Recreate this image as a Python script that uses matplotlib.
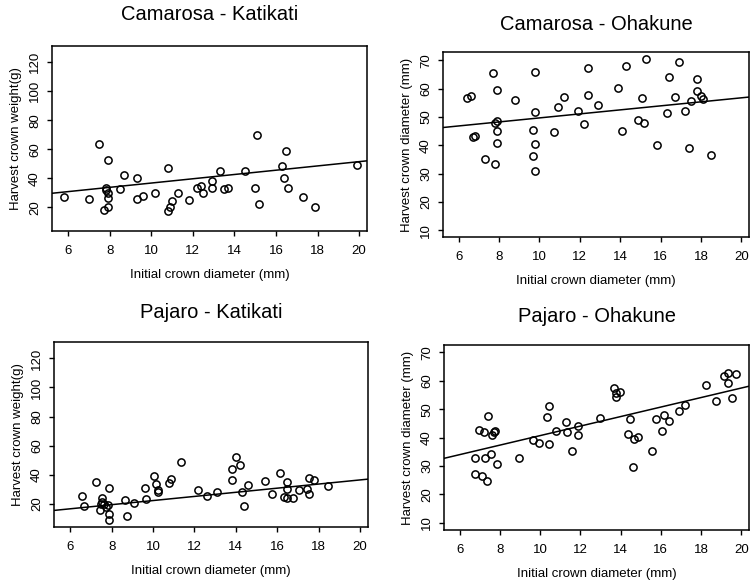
import matplotlib
matplotlib.use('Agg')
import matplotlib.pyplot as plt
import numpy as np

plt.rcParams['font.family'] = ['Liberation Sans', 'DejaVu Sans']

# Camarosa - Katikati: initial crown diameter (mm) vs harvest crown weight (g)
ck_x = [5.8, 7.0, 7.5, 7.7, 7.8, 7.8, 7.9, 7.9, 7.9, 7.9, 8.5, 8.7, 9.3, 9.3, 9.6,
        10.2, 10.8, 10.8, 10.9, 11.0, 11.3, 11.8, 12.2, 12.4, 12.5, 12.9, 12.9,
        13.3, 13.5, 13.7, 14.5, 15.0, 15.1, 15.2, 16.3, 16.5, 16.4, 16.6, 17.3,
        17.9, 19.9]
ck_y = [27.4, 26.0, 63.4, 18.2, 33.6, 32.0, 52.4, 30.1, 26.2, 20.2, 32.9, 42.3,
        40.0, 25.7, 28.0, 29.7, 47.4, 17.7, 20.5, 24.1, 29.7, 25.0, 33.6, 34.7,
        29.7, 38.2, 33.6, 45.0, 32.4, 33.6, 45.3, 33.1, 70.1, 22.1, 48.7, 58.6,
        40.0, 33.6, 27.1, 20.5, 49.4]

# Camarosa - Ohakune: initial crown diameter vs harvest crown diameter (mm)
co_x = [6.4, 6.6, 6.7, 6.8, 7.3, 7.7, 7.8, 7.8, 7.9, 7.9, 7.9, 7.9, 8.8, 9.8,
        9.8, 9.7, 9.8, 9.7, 9.8, 10.7, 10.9, 11.2, 11.9, 12.2, 12.4, 12.4, 12.9,
        13.9, 14.1, 14.3, 14.9, 15.1, 15.2, 15.3, 15.8, 16.3, 16.4, 16.7, 16.9,
        17.2, 17.4, 17.5, 17.8, 17.8, 18.0, 18.1, 18.5]
co_y = [56.7, 57.3, 42.8, 43.4, 35.0, 65.6, 33.4, 47.9, 59.5, 48.5, 45.1, 41.0,
        56.2, 65.9, 51.9, 45.5, 40.4, 36.4, 30.8, 44.7, 53.7, 57.2, 52.1, 47.5,
        57.9, 67.2, 54.4, 60.3, 45.0, 68.2, 49.1, 56.6, 47.8, 70.5, 40.2, 51.4,
        64.3, 57.2, 69.4, 52.1, 39.1, 55.6, 63.5, 59.1, 57.5, 56.5, 36.6]

# Pajaro - Katikati
pk_x = [6.57, 6.65, 7.27, 7.48, 7.46, 7.56, 7.56, 7.63, 7.75, 7.84, 7.86, 7.86,
        7.86, 8.65, 8.76, 9.06, 9.63, 9.65, 10.05, 10.14, 10.24, 10.25, 10.76,
        10.86, 11.37, 12.16, 12.6, 13.11, 13.79, 13.81, 14.0, 14.21, 14.32,
        14.4, 14.61, 15.39, 15.76, 16.15, 16.47, 16.47, 16.34, 16.45, 16.76,
        17.05, 17.44, 17.53, 17.55, 17.76, 18.44]
pk_y = [25.5, 18.6, 35.2, 20.0, 15.4, 24.1, 21.4, 19.8, 17.7, 19.3, 30.6, 12.9,
        8.7, 22.5, 11.7, 20.2, 30.8, 23.2, 39.1, 33.3, 29.4, 28.3, 34.0, 37.0,
        48.7, 29.4, 25.5, 27.9, 43.7, 36.1, 52.4, 46.7, 28.1, 18.6, 32.9, 35.7,
        26.7, 41.2, 34.7, 30.1, 24.8, 24.1, 24.1, 29.4, 30.3, 37.9, 26.5, 36.3,
        32.4]

# Pajaro - Ohakune
po_x = [6.75, 6.77, 6.95, 7.13, 7.23, 7.27, 7.35, 7.43, 7.57, 7.62, 7.7, 7.75,
        7.87, 8.97, 9.65, 9.93, 10.35, 10.45, 10.45, 10.77, 11.3, 11.35, 11.6,
        11.87, 11.88, 12.97, 13.67, 13.76, 13.76, 13.95, 14.36, 14.47, 14.59,
        14.65, 14.87, 15.58, 15.76, 16.07, 16.17, 16.4, 16.89, 17.18, 18.26,
        18.75, 19.13, 19.32, 19.32, 19.53, 19.71]
po_y = [27.1, 32.6, 42.6, 26.6, 42.0, 32.6, 24.6, 47.5, 34.2, 41.0, 42.0, 42.2,
        30.8, 32.6, 39.1, 38.1, 47.2, 51.2, 37.6, 42.4, 45.3, 41.8, 35.1, 40.8,
        44.1, 46.9, 57.6, 55.6, 54.2, 56.0, 41.3, 46.5, 29.6, 39.6, 40.2, 35.4,
        46.5, 42.4, 47.9, 45.9, 49.4, 51.5, 58.6, 52.8, 61.6, 62.8, 59.1, 53.9,
        62.4]

# fitted lines: (intercept, slope)
fits = {'ck': (22.0, 1.475), 'co': (42.6, 0.71), 'pk': (8.0, 1.42), 'po': (23.9, 1.677)}

titles = ['Camarosa - Katikati', 'Camarosa - Ohakune', 'Pajaro - Katikati', 'Pajaro - Ohakune']
xlab = 'Initial crown diameter (mm)'
ylab_w = 'Harvest crown weight(g)'
ylab_d = 'Harvest crown diameter (mm)'
xticks = [6, 8, 10, 12, 14, 16, 18, 20]
wticks = [20, 40, 60, 80, 100, 120]
dticks = [10, 20, 30, 40, 50, 60, 70]

W, H = 752, 581
fig = plt.figure(figsize=(W / 100, H / 100), dpi=100)


def box(l, t, r, b):
    return [l / W, 1 - b / H, (r - l) / W, (b - t) / H]


panels = [
    (box(52, 46, 367, 231), ck_x, ck_y, 'ck', ylab_w, wticks, (3.7, 131.2), 15),
    (box(443, 52, 749, 237), co_x, co_y, 'co', ylab_d, dticks, (7.6, 73.0), 25),
    (box(54, 342, 368, 527), pk_x, pk_y, 'pk', ylab_w, wticks, (4.0, 131.3), 313),
    (box(444, 345, 749, 530), po_x, po_y, 'po', ylab_d, dticks, (7.4, 72.6), 317),
]

xlim = (5.22, 20.38)
for i, (pos, x, y, key, ylab, yt, ylim, ty) in enumerate(panels):
    ax = fig.add_axes(pos)
    ax.plot(x, y, 'o', mfc='none', mec='black', ms=5.2, mew=1.1)
    a, b = fits[key]
    lx = np.array(xlim)
    ax.plot(lx, a + b * lx, color='black', lw=1.1)
    ax.set_xlim(xlim)
    ax.set_ylim(ylim)
    ax.set_xticks(xticks)
    ax.set_yticks(yt)
    ax.set_yticklabels([str(v) for v in yt], rotation=90, va='center')
    ax.tick_params(direction='out', length=3.8, width=1.0, labelsize=9.5)
    ax.tick_params(axis='x', pad=6)
    ax.tick_params(axis='y', pad=4)
    for s in ax.spines.values():
        s.set_linewidth(1.1)
    ax.set_xlabel(xlab, fontsize=9.5, labelpad=9)
    ax.set_ylabel(ylab, fontsize=9.5, labelpad=5)
    cx = (pos[0] + pos[2] / 2)
    fig.text(cx, 1 - ty / H, titles[i], ha='center', va='center', fontsize=14.5)

fig.savefig('out.png', dpi=100)
